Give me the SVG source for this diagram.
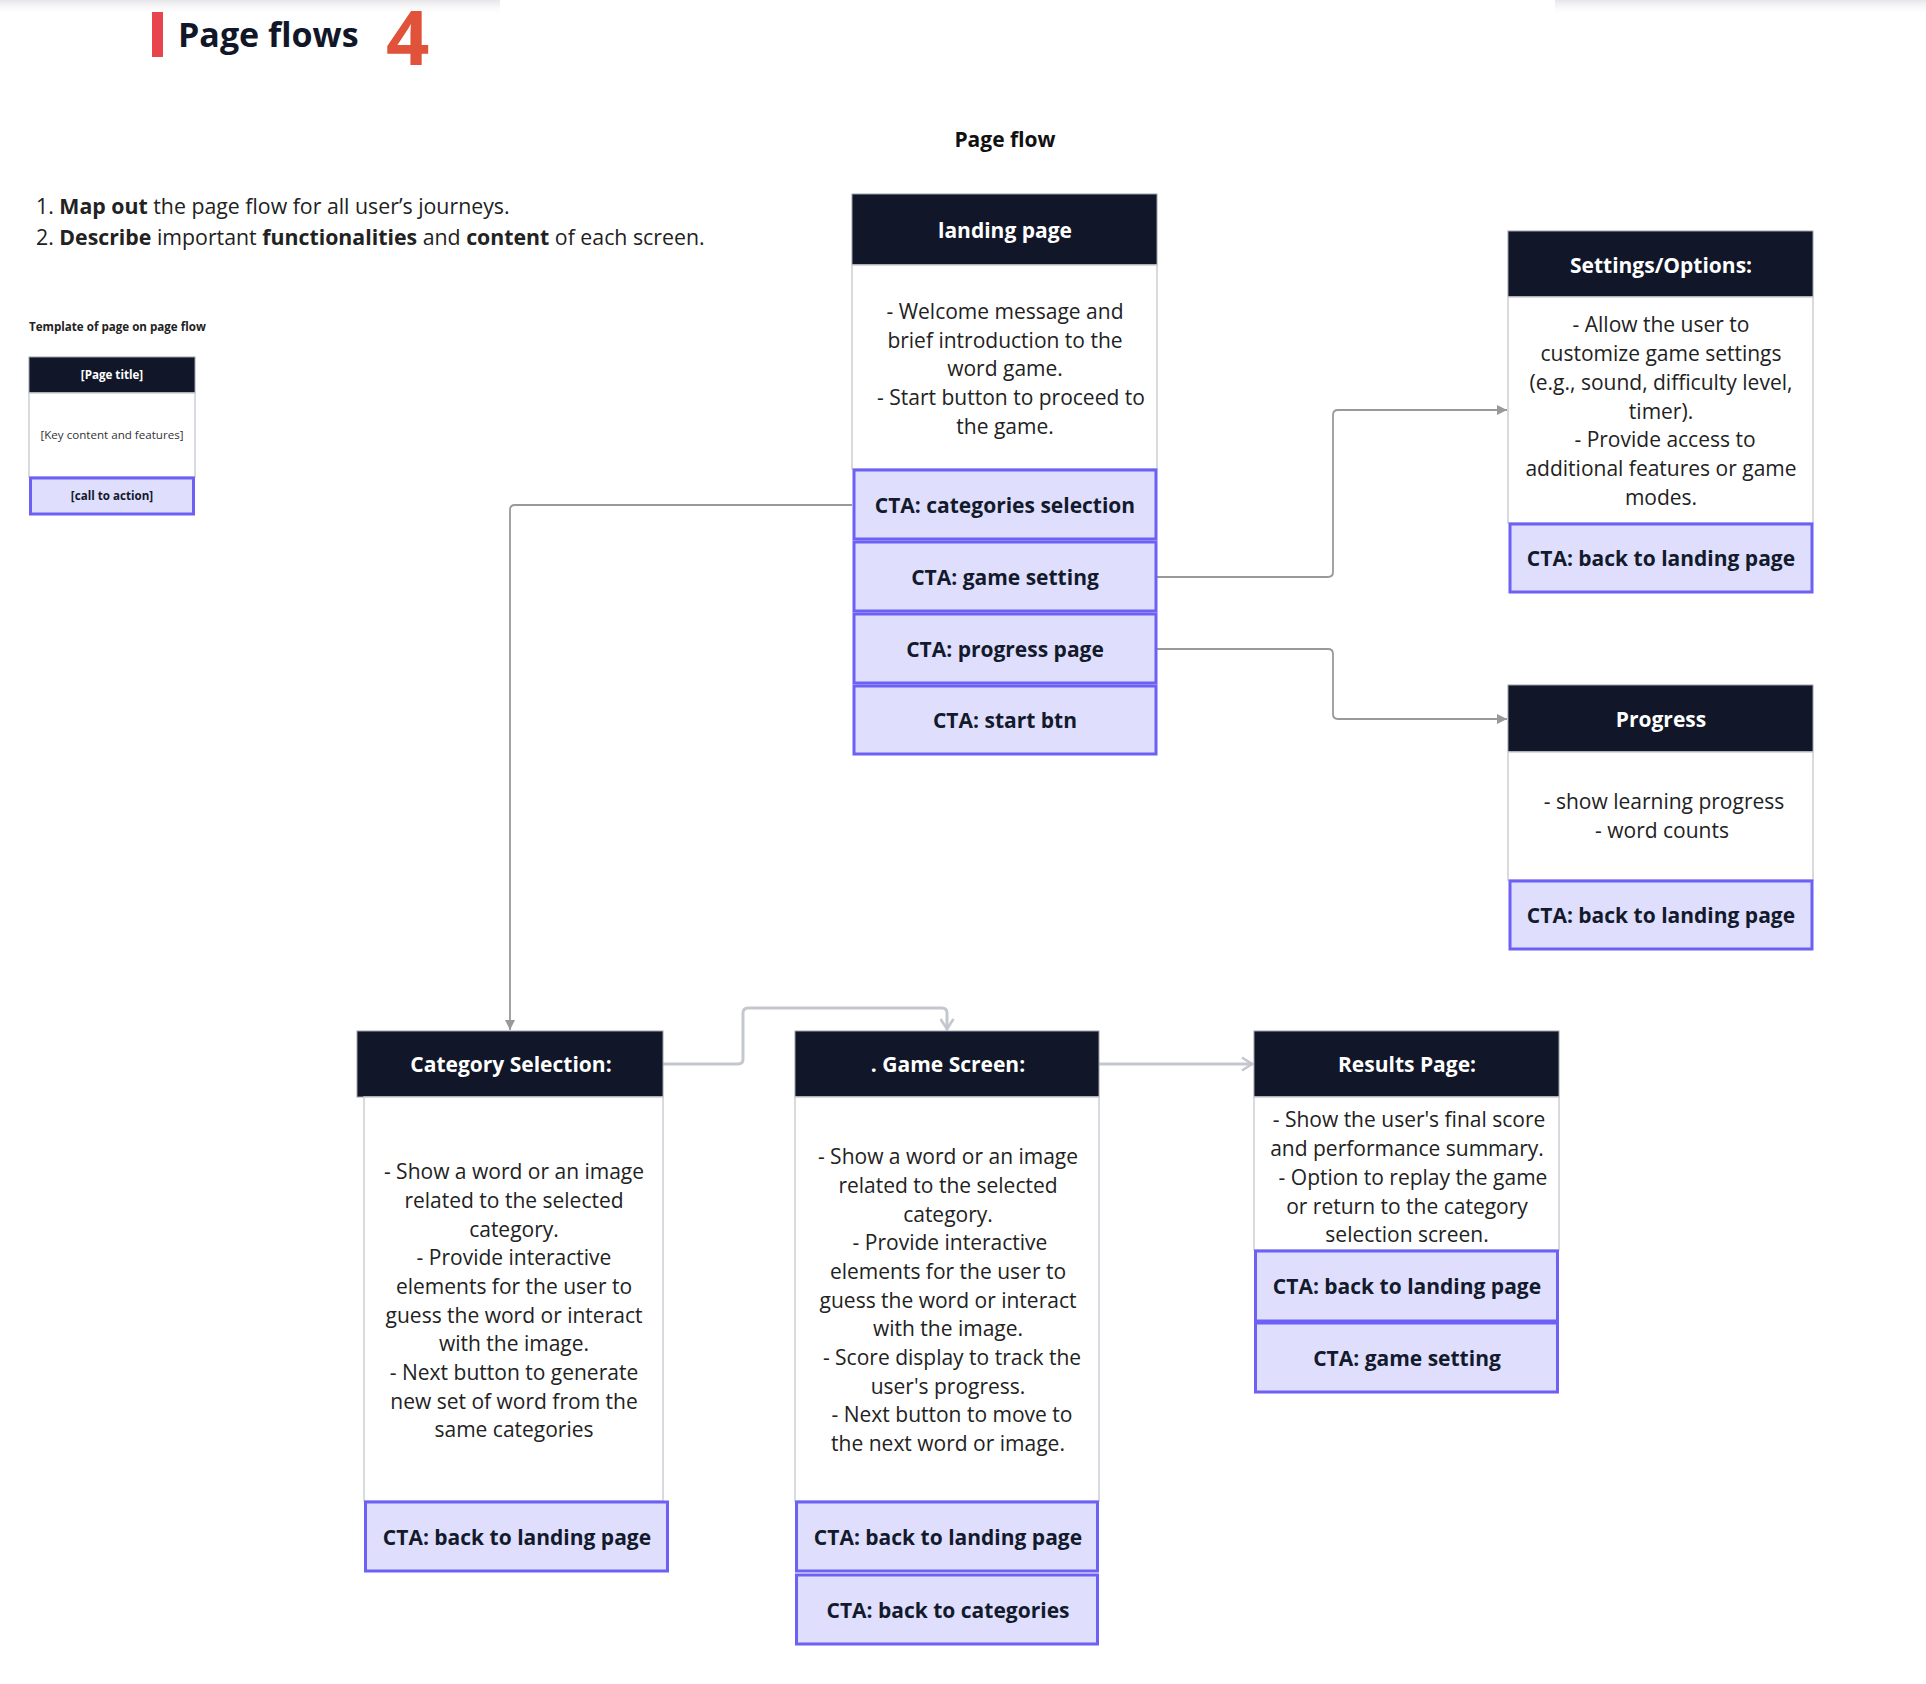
<svg xmlns="http://www.w3.org/2000/svg" width="1926" height="1684" viewBox="0 0 1926 1684">
<defs>
<linearGradient id="shadow" x1="0" y1="0" x2="0" y2="1">
<stop offset="0" stop-color="#e6e6ea"/>
<stop offset="1" stop-color="#ffffff" stop-opacity="0"/>
</linearGradient>
<marker id="arrF" viewBox="0 0 10 10" refX="10" refY="5" markerWidth="10" markerHeight="10" markerUnits="userSpaceOnUse" orient="auto">
<path d="M0,0 L10,5 L0,10 Z" fill="#999"/>
</marker>
<marker id="arrO" viewBox="0 0 14 16" refX="13" refY="8" markerWidth="14" markerHeight="16" markerUnits="userSpaceOnUse" orient="auto">
<path d="M2,1.5 L12,8 L2,14.5" fill="none" stroke="#c4c7cd" stroke-width="2.6"/>
</marker>
</defs>
<style>
.hdr{fill:#111729;stroke:#9aa0aa;stroke-width:1}
.bdy{fill:#ffffff;stroke:#cdced4;stroke-width:1.5}
.cta{fill:#dfdefc;stroke:#6d60f5;stroke-width:3}
.ht{font-family:"Open Sans","Noto Sans",sans-serif;font-weight:bold;font-size:21px;fill:#ffffff;text-anchor:middle}
.bt{font-family:"Open Sans","Noto Sans",sans-serif;font-size:21px;fill:#222222;text-anchor:middle}
.ct{font-family:"Open Sans","Noto Sans",sans-serif;font-weight:bold;font-size:21px;fill:#121a2c;text-anchor:middle}
.c1{fill:none;stroke:#999999;stroke-width:1.8;marker-end:url(#arrF)}
.c2{fill:none;stroke:#c4c7cd;stroke-width:3;marker-end:url(#arrO)}
.tt{font-family:"Open Sans","Noto Sans",sans-serif;font-size:11.6px;text-anchor:middle}
</style>
<rect width="1926" height="1684" fill="#ffffff"/>
<rect x="0" y="0" width="500" height="16" fill="url(#shadow)"/>
<rect x="1555" y="0" width="371" height="16" fill="url(#shadow)"/>

<g id="title">
<rect x="152" y="12" width="11" height="45" fill="#e8444e"/>
<text x="178" y="47" font-family="Open Sans, Noto Sans, sans-serif" font-weight="bold" font-size="34" fill="#111729">Page flows</text>
<text x="386" y="65" font-family="Open Sans, Noto Sans, sans-serif" font-weight="bold" font-size="76" fill="#e0533a">4</text>
</g>

<g id="instructions" font-family="Open Sans, Noto Sans, sans-serif" font-size="21.3" fill="#222222">
<text x="36" y="214">1. <tspan font-weight="bold">Map out</tspan> the page flow for all user’s journeys.</text>
<text x="36" y="245">2. <tspan font-weight="bold">Describe</tspan> important <tspan font-weight="bold">functionalities</tspan> and <tspan font-weight="bold">content</tspan> of each screen.</text>
</g>

<g id="heading">
<text x="1005" y="147" font-family="Open Sans, Noto Sans, sans-serif" font-weight="bold" font-size="21" fill="#111111" text-anchor="middle">Page flow</text>
</g>

<g id="template">
<text x="29" y="331" font-family="Open Sans, Noto Sans, sans-serif" font-weight="bold" font-size="11.6" fill="#222222">Template of page on page flow</text>
<rect class="hdr" x="29" y="357" width="166" height="36"/>
<rect class="bdy" x="29" y="393" width="166" height="84"/>
<rect class="cta" x="30.5" y="478" width="163" height="36"/>
<text class="tt" x="112" y="379" font-weight="bold" fill="#ffffff">[Page title]</text>
<text class="tt" x="112" y="439" fill="#333333">[Key content and features]</text>
<text class="tt" x="112" y="500" font-weight="bold" fill="#121a2c">[call to action]</text>
</g>

<g id="connectors">
<path class="c1" d="M852,505 H515 Q510,505 510,510 V1030"/>
<path class="c1" d="M1157,577 H1328 Q1333,577 1333,572 V415 Q1333,410 1338,410 H1507"/>
<path class="c1" d="M1157,649 H1328 Q1333,649 1333,654 V714 Q1333,719 1338,719 H1507"/>
<path class="c2" d="M663,1064 H738 Q743,1064 743,1059 V1013 Q743,1008 748,1008 H942 Q947,1008 947,1013 V1030"/>
<path class="c2" d="M1099,1064 H1253"/>
</g>

<g id="landing">
<rect class="hdr" x="852" y="194" width="305" height="71"/>
<text class="ht" x="1005" y="238">landing page</text>
<rect class="bdy" x="852" y="265" width="305" height="204"/>
<text class="bt" x="1005" y="319">- Welcome message and</text>
<text class="bt" x="1005" y="348">brief introduction to the</text>
<text class="bt" x="1005" y="376">word game.</text>
<text class="bt" x="1011" y="405">- Start button to proceed to</text>
<text class="bt" x="1005" y="434">the game.</text>
<rect class="cta" x="854" y="470" width="302" height="69"/>
<text class="ct" x="1005" y="513">CTA: categories selection</text>
<rect class="cta" x="854" y="542" width="302" height="69"/>
<text class="ct" x="1005" y="585">CTA: game setting</text>
<rect class="cta" x="854" y="614" width="302" height="69"/>
<text class="ct" x="1005" y="657">CTA: progress page</text>
<rect class="cta" x="854" y="686" width="302" height="68"/>
<text class="ct" x="1005" y="728">CTA: start btn</text>
</g>

<g id="settings">
<rect class="hdr" x="1508" y="231" width="305" height="66"/>
<text class="ht" x="1661" y="273">Settings/Options:</text>
<rect class="bdy" x="1508" y="297" width="305" height="226"/>
<text class="bt" x="1661" y="332">- Allow the user to</text>
<text class="bt" x="1661" y="361">customize game settings</text>
<text class="bt" x="1661" y="390">(e.g., sound, difficulty level,</text>
<text class="bt" x="1661" y="419">timer).</text>
<text class="bt" x="1665" y="447">- Provide access to</text>
<text class="bt" x="1661" y="476">additional features or game</text>
<text class="bt" x="1661" y="505">modes.</text>
<rect class="cta" x="1510" y="524" width="302" height="68"/>
<text class="ct" x="1661" y="566">CTA: back to landing page</text>
</g>

<g id="progress">
<rect class="hdr" x="1508" y="685" width="305" height="67"/>
<text class="ht" x="1661" y="727">Progress</text>
<rect class="bdy" x="1508" y="752" width="305" height="128"/>
<text class="bt" x="1664" y="809">- show learning progress</text>
<text class="bt" x="1662" y="838">- word counts</text>
<rect class="cta" x="1510" y="881" width="302" height="68"/>
<text class="ct" x="1661" y="923">CTA: back to landing page</text>
</g>

<g id="category">
<rect class="hdr" x="357" y="1031" width="306" height="66"/>
<text class="ht" x="511" y="1072">Category Selection:</text>
<rect class="bdy" x="364" y="1097" width="299" height="404"/>
<text class="bt" x="514" y="1179">- Show a word or an image</text>
<text class="bt" x="514" y="1208">related to the selected</text>
<text class="bt" x="514" y="1237">category.</text>
<text class="bt" x="514" y="1265">- Provide interactive</text>
<text class="bt" x="514" y="1294">elements for the user to</text>
<text class="bt" x="514" y="1323">guess the word or interact</text>
<text class="bt" x="514" y="1351">with the image.</text>
<text class="bt" x="514" y="1380">- Next button to generate</text>
<text class="bt" x="514" y="1409">new set of word from the</text>
<text class="bt" x="514" y="1437">same categories</text>
<rect class="cta" x="365.5" y="1502" width="302" height="69"/>
<text class="ct" x="517" y="1545">CTA: back to landing page</text>
</g>

<g id="game">
<rect class="hdr" x="795" y="1031" width="304" height="66"/>
<text class="ht" x="948" y="1072">. Game Screen:</text>
<rect class="bdy" x="795" y="1097" width="304" height="404"/>
<text class="bt" x="948" y="1164">- Show a word or an image</text>
<text class="bt" x="948" y="1193">related to the selected</text>
<text class="bt" x="948" y="1222">category.</text>
<text class="bt" x="950" y="1250">- Provide interactive</text>
<text class="bt" x="948" y="1279">elements for the user to</text>
<text class="bt" x="948" y="1308">guess the word or interact</text>
<text class="bt" x="948" y="1336">with the image.</text>
<text class="bt" x="952" y="1365">- Score display to track the</text>
<text class="bt" x="948" y="1394">user's progress.</text>
<text class="bt" x="952" y="1422">- Next button to move to</text>
<text class="bt" x="948" y="1451">the next word or image.</text>
<rect class="cta" x="796.5" y="1502" width="301" height="69"/>
<text class="ct" x="948" y="1545">CTA: back to landing page</text>
<rect class="cta" x="796.5" y="1575" width="301" height="69"/>
<text class="ct" x="948" y="1618">CTA: back to categories</text>
</g>

<g id="results">
<rect class="hdr" x="1254" y="1031" width="305" height="66"/>
<text class="ht" x="1407" y="1072">Results Page:</text>
<rect class="bdy" x="1254" y="1097" width="305" height="153"/>
<text class="bt" x="1409" y="1127">- Show the user's final score</text>
<text class="bt" x="1407" y="1156">and performance summary.</text>
<text class="bt" x="1413" y="1185">- Option to replay the game</text>
<text class="bt" x="1407" y="1214">or return to the category</text>
<text class="bt" x="1407" y="1242">selection screen.</text>
<rect class="cta" x="1255.5" y="1251" width="302" height="70"/>
<text class="ct" x="1407" y="1294">CTA: back to landing page</text>
<rect class="cta" x="1255.5" y="1323" width="302" height="69"/>
<text class="ct" x="1407" y="1366">CTA: game setting</text>
</g>
</svg>
